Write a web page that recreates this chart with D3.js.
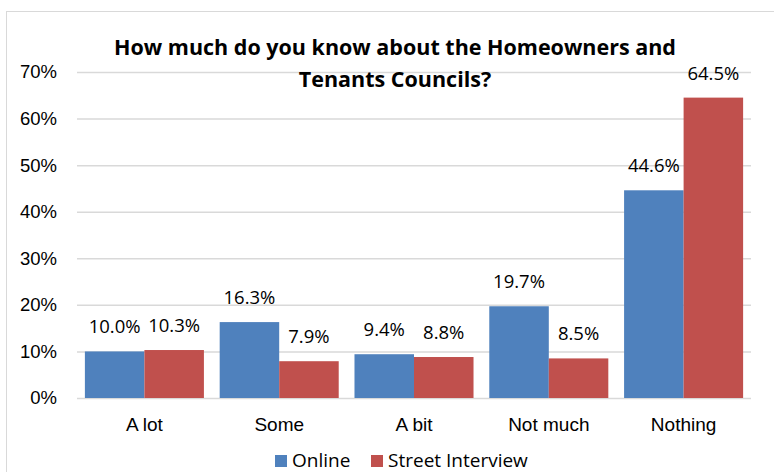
<!DOCTYPE html>
<html>
<head>
<meta charset="utf-8">
<script src="https://cdn.jsdelivr.net/npm/d3@7"></script>
<style>
  html, body { margin: 0; padding: 0; background: #fff; }
  svg { display: block; font-family: "Open Sans", Lato, sans-serif; }
</style>
</head>
<body>
<svg id="chart" width="774" height="472"></svg>
<script>
// Survey answers, one bar per source in each category
const categories = ["A lot", "Some", "A bit", "Not much", "Nothing"];
const series = ["Online", "Street Interview"];
const onlineValues = [0.100, 0.163, 0.094, 0.197, 0.446];
const streetValues = [0.103, 0.079, 0.088, 0.085, 0.645];
const yTicks = [0, 0.1, 0.2, 0.3, 0.4, 0.5, 0.6, 0.7];
const titleLines = ["How much do you know about the Homeowners and", "Tenants Councils?"];
const colors = { "Online": "#4F81BD", "Street Interview": "#C0504D" };

const rows = categories.map((c, i) => ({
  category: c,
  values: [
    { key: "Online", value: onlineValues[i] },
    { key: "Street Interview", value: streetValues[i] }
  ]
}));

const svg = d3.select("#chart");
const plot = { left: 77, right: 751, top: 72, bottom: 398 };

// Outer frame
svg.append("rect")
  .attr("x", 6.5).attr("y", 11.5)
  .attr("width", 780).attr("height", 480)
  .attr("fill", "none").attr("stroke", "#D9D9D9").attr("stroke-width", 1);

const x = d3.scaleBand()
  .domain(categories)
  .range([plot.left, plot.right])
  .paddingInner(0.117)
  .paddingOuter(0.0585);

const xs = d3.scaleBand()
  .domain(series)
  .range([0, x.bandwidth()]);

const y = d3.scaleLinear()
  .domain([0, 0.7])
  .range([plot.bottom, plot.top]);

// Gridlines and y tick labels
const yAxis = svg.append("g")
  .attr("transform", `translate(${plot.left},0)`)
  .call(d3.axisLeft(y)
    .tickValues(yTicks)
    .tickFormat(d3.format(".0%"))
    .tickSize(-(plot.right - plot.left))
    .tickPadding(20));
yAxis.select(".domain").remove();
yAxis.selectAll(".tick line").attr("stroke", "#D9D9D9").attr("stroke-width", 1.5);
yAxis.selectAll(".tick text")
  .attr("fill", "#000").attr("font-size", 18.5);

// Category labels
const xAxis = svg.append("g")
  .attr("transform", `translate(0,${plot.bottom})`)
  .call(d3.axisBottom(x).tickSize(0).tickPadding(20));
xAxis.select(".domain").remove();
xAxis.selectAll(".tick text")
  .attr("fill", "#000").attr("font-size", 19);

// Bars
const groups = svg.append("g").selectAll("g")
  .data(rows).join("g")
  .attr("transform", d => `translate(${x(d.category)},0)`);

groups.selectAll("rect")
  .data(d => d.values).join("rect")
  .attr("x", d => xs(d.key))
  .attr("y", d => y(d.value))
  .attr("width", xs.bandwidth())
  .attr("height", d => y(0) - y(d.value))
  .attr("fill", d => colors[d.key]);

// Value labels
groups.selectAll("text")
  .data(d => d.values).join("text")
  .attr("x", d => xs(d.key) + xs.bandwidth() / 2)
  .attr("y", d => y(d.value) - 18)
  .attr("text-anchor", "middle")
  .attr("font-size", 18.5)
  .attr("fill", "#000")
  .text(d => d3.format(".1%")(d.value));

// Title
svg.append("text")
  .attr("x", 395).attr("y", 55)
  .attr("text-anchor", "middle")
  .attr("font-size", 21.5).attr("font-weight", "bold")
  .selectAll("tspan")
  .data(titleLines).join("tspan")
  .attr("x", 395)
  .attr("dy", (d, i) => i === 0 ? 0 : 32)
  .text(d => d);

// Legend
const legendItems = [
  { key: "Online", sx: 275, tx: 292 },
  { key: "Street Interview", sx: 371, tx: 388 }
];
const legend = svg.append("g");
legend.selectAll("rect")
  .data(legendItems).join("rect")
  .attr("x", d => d.sx).attr("y", 455)
  .attr("width", 12).attr("height", 12)
  .attr("fill", d => colors[d.key]);
legend.selectAll("text")
  .data(legendItems).join("text")
  .attr("x", d => d.tx).attr("y", 467)
  .attr("font-size", 19).attr("fill", "#000")
  .text(d => d.key);
</script>
</body>
</html>
